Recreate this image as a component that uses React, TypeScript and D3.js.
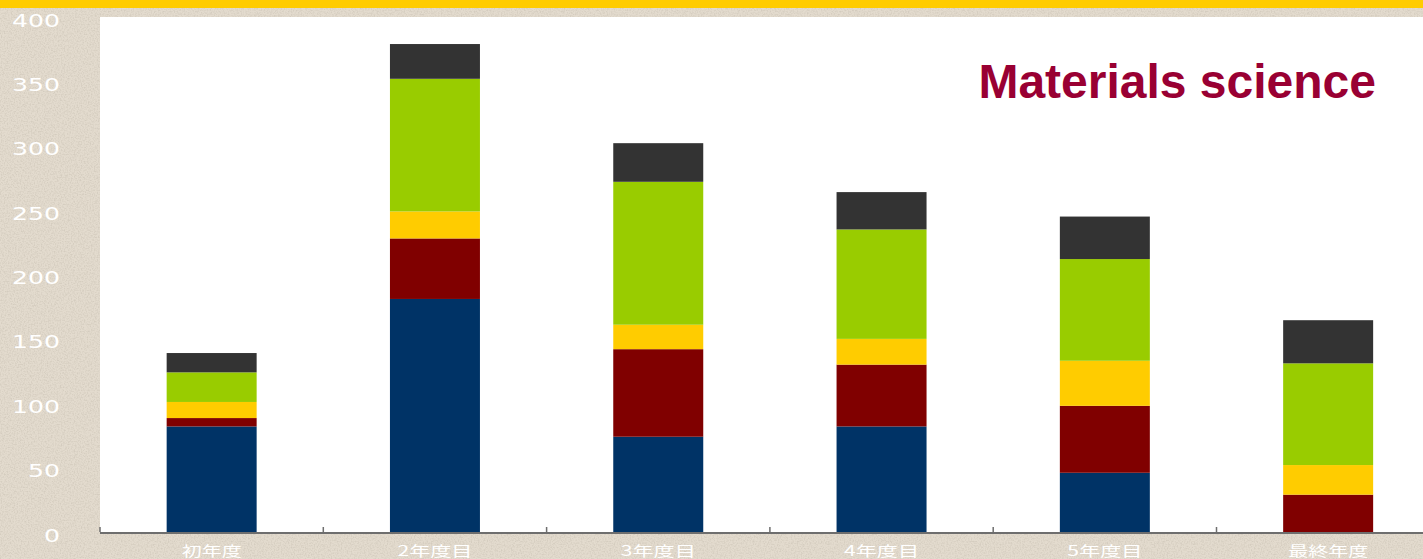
import React from "react";
import * as d3 from "d3";

const categories = ["初年度", "2年度目", "3年度目", "4年度目", "5年度目", "最終年度"];
const seriesNames = ["s1", "s2", "s3", "s4", "s5"];
const navyValues = [82, 181, 74, 82, 46, 0];
const maroonValues = [6.5, 47, 68, 48, 52, 29];
const yellowValues = [12.5, 21, 19, 20, 35, 23];
const greenValues = [23, 103, 111, 85, 79, 79];
const darkValues = [15, 27, 30, 29, 33, 33.5];
const seriesColors = ["#003366", "#800000", "#FFCC00", "#99CC00", "#333333"];
const yTicks = [0, 50, 100, 150, 200, 250, 300, 350, 400];
const title = "Materials science";

const W = 1423;
const H = 559;
const plotLeft = 100;
const plotTop = 17;
const plotBottom = 532;
const bandW = 223.3;

function labelWidth(s: string) {
  let w = 0;
  for (const ch of s) w += /[0-9]/.test(ch) ? 15 : 20;
  return w;
}

export default function App() {
  const table = categories.map((c, i) => ({
    cat: c,
    s1: navyValues[i],
    s2: maroonValues[i],
    s3: yellowValues[i],
    s4: greenValues[i],
    s5: darkValues[i],
  }));
  const stacked = d3.stack<any>().keys(seriesNames)(table);
  const x = d3
    .scaleBand<string>()
    .domain(categories)
    .range([plotLeft, plotLeft + bandW * categories.length])
    .paddingInner(0.597)
    .paddingOuter(0.2985);
  const y = d3.scaleLinear().domain([0, 400]).range([plotBottom, plotTop]);
  const tickXs = d3.range(categories.length).map((i) => plotLeft + i * bandW);

  return (
    <svg
      width={W}
      height={H}
      style={{ position: "fixed", left: 0, top: 0, display: "block" }}
    >
      <defs>
        <filter id="noise" x="0" y="0" width="100%" height="100%">
          <feTurbulence type="fractalNoise" baseFrequency="0.7" numOctaves="2" seed="3" />
          <feColorMatrix
            type="matrix"
            values="0 0 0 0 0.55  0 0 0 0 0.5  0 0 0 0 0.42  2.6 0 0 0 -1.05"
          />
        </filter>
      </defs>
      <rect x={0} y={0} width={W} height={H} fill="#E3DBCE" />
      <rect x={0} y={0} width={W} height={H} filter="url(#noise)" opacity={0.45} />
      <rect x={0} y={0} width={W} height={8} fill="#FFCC00" />
      <rect
        x={plotLeft}
        y={plotTop}
        width={W - plotLeft}
        height={plotBottom - plotTop}
        fill="#FFFFFF"
      />
      {stacked.map((s, si) => (
        <g key={s.key} fill={seriesColors[si]}>
          {s.map((d, i) => (
            <rect
              key={i}
              x={x(categories[i])}
              y={y(d[1])}
              width={x.bandwidth()}
              height={Math.max(0, y(d[0]) - y(d[1]))}
            />
          ))}
        </g>
      ))}
      <line
        x1={plotLeft}
        x2={W}
        y1={plotBottom + 1}
        y2={plotBottom + 1}
        stroke="#6E6E6E"
        strokeWidth={2}
      />
      {tickXs.map((tx, i) => (
        <line
          key={i}
          x1={tx}
          x2={tx}
          y1={plotBottom}
          y2={plotBottom - 5}
          stroke="#6E6E6E"
          strokeWidth={1.5}
        />
      ))}
      {yTicks.map((t) => {
        const s = String(t);
        return (
          <text
            key={t}
            x={60}
            y={y(t) + 3}
            textAnchor="end"
            dominantBaseline="central"
            fill="#FFFFFF"
            fontFamily="DejaVu Sans, sans-serif"
            fontSize={18}
            textLength={s.length * 16}
            lengthAdjust="spacingAndGlyphs"
          >
            {s}
          </text>
        );
      })}
      {categories.map((c) => (
        <text
          key={c}
          x={(x(c) as number) + x.bandwidth() / 2}
          y={549.5}
          textAnchor="middle"
          dominantBaseline="central"
          fill="#FFFFFF"
          fontFamily="'Noto Sans CJK JP', sans-serif"
          fontSize={14}
          textLength={labelWidth(c)}
          lengthAdjust="spacingAndGlyphs"
        >
          {c}
        </text>
      ))}
      <text
        x={1376}
        y={98}
        textAnchor="end"
        fill="#990033"
        fontFamily="'Liberation Sans', Arial, sans-serif"
        fontWeight="bold"
        fontSize={48}
      >
        {title}
      </text>
    </svg>
  );
}
